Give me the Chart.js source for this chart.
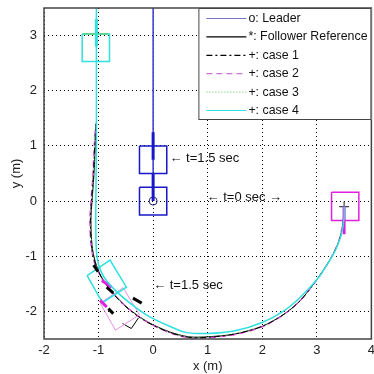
<!DOCTYPE html>
<html>
<head>
<meta charset="utf-8">
<script src="https://cdn.jsdelivr.net/npm/chart.js@4"></script>
<style>html,body{margin:0;padding:0;background:#fff;overflow:hidden}</style>
</head>
<body>
<canvas id="myChart" width="379" height="374"></canvas>
<script>
const X_TICKS = [-2, -1, 0, 1, 2, 3, 4];
const Y_TICKS = [-2, -1, 0, 1, 2, 3];

const LEGEND_LABELS = ["o: Leader", "*: Follower Reference", "+: case 1", "+: case 2", "+: case 3", "+: case 4"];

// leader path
const LEADER_X = [0, 0];
const LEADER_Y = [0, 3.5];

// follower paths
const REF_X = [3.5, 3.49, 3.43, 3.33, 3.2, 2.98, 2.7, 2.4, 2.0, 1.5, 1.0, 0.65, 0.3, -0.1, -0.45, -0.75, -0.95, -1.06, -1.12, -1.14, -1.12, -1.09, -1.06, -1.05];
const REF_Y = [-0.1, -0.35, -0.65, -0.9, -1.13, -1.45, -1.8, -2.05, -2.27, -2.41, -2.46, -2.46, -2.37, -2.19, -1.95, -1.65, -1.37, -1.1, -0.8, -0.35, 0, 0.4, 1.0, 1.4];
const CASE1_X = [3.5, 3.49, 3.43, 3.33, 3.2, 2.98, 2.7, 2.4, 2.0, 1.5, 1.0, 0.65, 0.3, -0.1, -0.45, -0.75, -0.95, -1.07, -1.13, -1.15, -1.13, -1.1, -1.07, -1.05];
const CASE1_Y = [-0.1, -0.35, -0.65, -0.9, -1.13, -1.45, -1.8, -2.05, -2.27, -2.41, -2.47, -2.47, -2.38, -2.2, -1.96, -1.66, -1.38, -1.1, -0.8, -0.35, 0, 0.4, 1.0, 1.4];
const CASE2_X = [3.5, 3.48, 3.42, 3.32, 3.19, 2.97, 2.69, 2.39, 2.0, 1.5, 1.0, 0.66, 0.31, -0.08, -0.43, -0.74, -0.95, -1.08, -1.14, -1.16, -1.14, -1.11, -1.08, -1.06];
const CASE2_Y = [-0.1, -0.36, -0.66, -0.92, -1.15, -1.47, -1.81, -2.06, -2.28, -2.42, -2.48, -2.48, -2.39, -2.21, -1.97, -1.67, -1.39, -1.1, -0.8, -0.35, 0, 0.4, 1.0, 1.35];
const CASE3_X = [3.5, 3.49, 3.43, 3.34, 3.21, 2.99, 2.71, 2.41, 2.01, 1.5, 1.0, 0.64, 0.29, -0.11, -0.46, -0.76, -0.96, -1.07, -1.12, -1.14, -1.12, -1.09, -1.06, -1.05];
const CASE3_Y = [-0.1, -0.34, -0.64, -0.89, -1.12, -1.44, -1.79, -2.04, -2.26, -2.4, -2.46, -2.46, -2.37, -2.19, -1.95, -1.65, -1.37, -1.1, -0.8, -0.35, 0, 0.4, 1.0, 1.4];
const CASE4_X = [3.5, 3.5, 3.45, 3.36, 3.24, 3.02, 2.72, 2.41, 2.0, 1.5, 1.0, 0.6, 0.26, -0.11, -0.37, -0.66, -0.9, -1.0, -1.04, -1.05, -1.05, -1.04, -1.04, -1.04];
const CASE4_Y = [-0.1, -0.3, -0.6, -0.85, -1.07, -1.4, -1.72, -1.98, -2.2, -2.35, -2.4, -2.38, -2.25, -2.07, -1.89, -1.65, -1.38, -1.15, -0.9, -0.5, 0, 1, 2, 3.5];

// body outlines (closed corner lists)
const LEADER_BOX0_X = [-0.25, 0.25, 0.25, -0.25, -0.25];
const LEADER_BOX0_Y = [0.25, 0.25, -0.25, -0.25, 0.25];
const LEADER_BOX1_X = [-0.25, 0.25, 0.25, -0.25, -0.25];
const LEADER_BOX1_Y = [1.0, 1.0, 0.5, 0.5, 1.0];
const START_BOX_X = [3.27, 3.77, 3.77, 3.27, 3.27];
const START_BOX_Y = [0.16, 0.16, -0.35, -0.35, 0.16];
const TOP_BOX_X = [-1.3, -0.8, -0.8, -1.3, -1.3];
const TOP_BOX_Y = [3.03, 3.03, 2.53, 2.53, 3.03];
const TOP_EDGE_X = [-1.28, -0.82];
const TOP_EDGE_Y = [3.03, 3.03];
const CYAN_MID_BOX_X = [-1.21, -0.79, -0.49, -0.93, -1.21];
const CYAN_MID_BOX_Y = [-1.35, -1.07, -1.56, -1.84, -1.35];
const PINK_MID_BOX_X = [-0.97, -0.55, -0.25, -0.69, -0.97];
const PINK_MID_BOX_Y = [-1.85, -1.57, -2.06, -2.34, -1.85];
const BLACK_MID_BOX_X = [-0.56, -0.4, -0.27];
const BLACK_MID_BOX_Y = [-2.22, -2.31, -2.12];

// heading marks (null = gap)
const BLUE_HEAD_X = [0, 0, null, 0, 0];
const BLUE_HEAD_Y = [0.75, 1.25, null, 0, 0.5];
const MAG_HEAD_X = [3.5, 3.5, null, -0.94, -0.76, null, -0.97, -0.85];
const MAG_HEAD_Y = [-0.1, -0.6, null, -1.44, -1.56, null, -1.8, -1.92];
const BLACK_HEAD_X = [-0.85, -0.73, null, -0.37, -0.21, null, -0.82, -0.73, null, -1.09, -1.01];
const BLACK_HEAD_Y = [-1.56, -1.67, null, -1.76, -1.85, null, -1.95, -2.04, null, -1.16, -1.28];
const CYAN_HEAD_X = [-1.04, -1.04];
const CYAN_HEAD_Y = [2.8, 3.3];

const LEADER_MARK_X = [0];
const LEADER_MARK_Y = [0];
const START_MARK_X = [3.5];
const START_MARK_Y = [-0.1];

const NOTES = [
  {text: "\u2190 t=1.5 sec", x: 0.3, y: 0.78},
  {text: "\u2190 t=0 sec \u2192", x: 0.98, y: 0.06},
  {text: "\u2190 t=1.5 sec", x: 0.0, y: -1.53}
];

const COLORS = {
  leader: "#3a3ad0",
  box: "#1818c8",
  ref: "#000000",
  case1: "#000000",
  case2: "#e040e0",
  case3: "#30c030",
  case4: "#30e0e0"
};

const FONT = "'Liberation Sans', Arial, sans-serif";

function pts(xs, ys) {
  return xs.map((x, i) => ({x: x, y: ys[i]}));
}

function line(xs, ys, color, width, dash, tension) {
  return {
    data: pts(xs, ys),
    borderColor: color,
    borderWidth: width,
    borderDash: dash || [],
    pointRadius: 0,
    showLine: true,
    fill: false,
    tension: tension || 0,
    spanGaps: false
  };
}

const datasets = [
  line(CYAN_HEAD_X, CYAN_HEAD_Y, COLORS.case4, 3),
  line(TOP_EDGE_X, TOP_EDGE_Y, "#60c040", 1),
  line(TOP_BOX_X, TOP_BOX_Y, COLORS.case4, 1.5),
  line(CASE4_X, CASE4_Y, COLORS.case4, 1.5, [], 0.3),
  line(MAG_HEAD_X, MAG_HEAD_Y, "#e020e0", 3),
  line(BLACK_HEAD_X, BLACK_HEAD_Y, "#000", 3),
  line(CYAN_MID_BOX_X, CYAN_MID_BOX_Y, COLORS.case4, 1.5),
  line(PINK_MID_BOX_X, PINK_MID_BOX_Y, "#e890e8", 1),
  line(BLACK_MID_BOX_X, BLACK_MID_BOX_Y, "#000", 1),
  line(CASE1_X, CASE1_Y, COLORS.case1, 1, [6, 3, 2, 3], 0.3),
  line(CASE2_X, CASE2_Y, COLORS.case2, 1.2, [6, 4], 0.3),
  line(CASE3_X, CASE3_Y, COLORS.case3, 1, [1, 2], 0.3),
  line(REF_X, REF_Y, COLORS.ref, 1, [], 0.3),
  line(START_BOX_X, START_BOX_Y, "#e020e0", 1.5),
  line(BLUE_HEAD_X, BLUE_HEAD_Y, COLORS.box, 3),
  line(LEADER_BOX0_X, LEADER_BOX0_Y, COLORS.box, 1.5),
  line(LEADER_BOX1_X, LEADER_BOX1_Y, COLORS.box, 1.5),
  line(LEADER_X, LEADER_Y, COLORS.leader, 1.5),
  {
    data: pts(LEADER_MARK_X, LEADER_MARK_Y),
    pointStyle: "circle", pointRadius: 4, borderColor: "#202080",
    backgroundColor: "rgba(0,0,0,0)", borderWidth: 1, showLine: false
  },
  {
    data: pts(START_MARK_X, START_MARK_Y),
    pointStyle: "cross", pointRadius: 5, borderColor: "#444",
    borderWidth: 1.2, showLine: false
  }
];
// first entry ends up on top
datasets.forEach((d, i) => { d.order = i; });

const LEGEND_STYLES = [
  {color: "#7474c8", dash: []},
  {color: "#000", dash: []},
  {color: "#000", dash: [6, 3, 2, 3]},
  {color: "#d070d8", dash: [6, 4]},
  {color: "#70d070", dash: [1, 2]},
  {color: "#30e0e0", dash: []}
];

const extras = {
  id: "extras",
  afterDatasetsDraw(chart) {
    const ctx = chart.ctx;
    const ca = chart.chartArea;
    const xs = chart.scales.x, ys = chart.scales.y;
    ctx.save();
    // notes
    ctx.font = "13px " + FONT;
    ctx.fillStyle = "#111";
    ctx.textBaseline = "middle";
    NOTES.forEach(n => {
      ctx.fillText(n.text, xs.getPixelForValue(n.x), ys.getPixelForValue(n.y));
    });
    // frame
    ctx.strokeStyle = "#444";
    ctx.lineWidth = 1.5;
    ctx.setLineDash([]);
    ctx.strokeRect(ca.left, ca.top, ca.right - ca.left, ca.bottom - ca.top);
    // legend
    const lw = 173, lh = 112;
    const lx = ca.right - lw, ly = ca.top;
    ctx.fillStyle = "#fff";
    ctx.fillRect(lx, ly, lw, lh);
    ctx.strokeStyle = "#444";
    ctx.lineWidth = 1;
    ctx.strokeRect(lx + 0.5, ly + 0.5, lw - 1, lh - 1);
    ctx.font = "12.4px " + FONT;
    LEGEND_LABELS.forEach((lab, i) => {
      const yy = ly + 10.5 + i * 18.4;
      const st = LEGEND_STYLES[i];
      ctx.strokeStyle = st.color;
      ctx.lineWidth = 1.2;
      ctx.setLineDash(st.dash);
      ctx.beginPath();
      ctx.moveTo(lx + 8, yy);
      ctx.lineTo(lx + 48, yy);
      ctx.stroke();
      ctx.setLineDash([]);
      ctx.fillStyle = "#111";
      ctx.fillText(lab, lx + 50, yy);
    });
    ctx.restore();
  }
};

const MY_CHART = document.querySelector("#myChart");

new Chart(MY_CHART, {
  type: "scatter",
  data: {datasets: datasets},
  options: {
    responsive: false,
    animation: false,
    layout: {padding: {top: 8, right: 0, left: 0, bottom: 0}},
    plugins: {legend: {display: false}, tooltip: {enabled: false}},
    scales: {
      x: {
        type: "linear", min: -2, max: 4,
        afterBuildTicks: s => { s.ticks = X_TICKS.map(v => ({value: v})); },
        afterFit: s => { s.height = 35; },
        grid: {color: "#000", borderDash: [1, 3], drawTicks: false, lineWidth: 1},
        border: {display: false, dash: [1, 3]},
        ticks: {color: "#222", padding: 4, font: {size: 13, family: FONT}},
        title: {display: true, text: "x (m)", color: "#222", padding: {top: 0, bottom: 0}, font: {size: 13, family: FONT}}
      },
      y: {
        type: "linear", min: -2.5, max: 3.5,
        afterBuildTicks: s => { s.ticks = Y_TICKS.map(v => ({value: v})); },
        afterFit: s => { s.width = 44; s.paddingTop = 0; s.paddingBottom = 0; },
        grid: {color: "#000", borderDash: [1, 3], drawTicks: false, lineWidth: 1},
        border: {display: false, dash: [1, 3]},
        ticks: {color: "#222", padding: 7, font: {size: 13, family: FONT}},
        title: {display: true, text: "y (m)", color: "#222", padding: {top: 9, bottom: 0}, font: {size: 13, family: FONT}}
      }
    }
  },
  plugins: [extras]
});
</script>
</body>
</html>
